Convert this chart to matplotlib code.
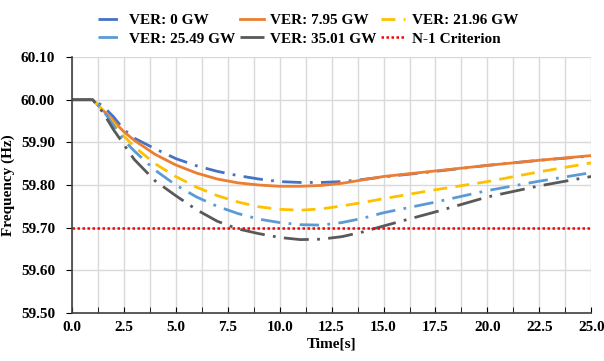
import numpy as np
import matplotlib.pyplot as plt
from matplotlib.ticker import MultipleLocator

# time points [s]
time = [0, 1, 1.5, 2, 2.5, 3, 4, 5, 6, 7, 8, 9, 10, 11, 12, 13, 14, 15, 17.5, 20, 22.5, 25]

# frequency responses (Hz)
ver_0 = [60.0, 60.0, 59.985, 59.96, 59.93, 59.91, 59.885, 59.862, 59.845, 59.832, 59.822,
         59.814, 59.808, 59.806, 59.806, 59.808, 59.813, 59.819, 59.832, 59.846, 59.858, 59.868]
ver_795 = [60.0, 60.0, 59.975, 59.95, 59.925, 59.905, 59.872, 59.847, 59.828, 59.814, 59.805,
           59.8, 59.797, 59.797, 59.799, 59.804, 59.812, 59.82, 59.833, 59.846, 59.858, 59.869]
ver_2196 = [60.0, 60.0, 59.975, 59.945, 59.915, 59.89, 59.85, 59.82, 59.795, 59.775, 59.76,
            59.749, 59.743, 59.741, 59.744, 59.751, 59.759, 59.768, 59.789, 59.808, 59.831, 59.852]
ver_2549 = [60.0, 60.0, 59.975, 59.94, 59.905, 59.88, 59.835, 59.8, 59.772, 59.75, 59.733,
            59.72, 59.712, 59.707, 59.706, 59.712, 59.722, 59.735, 59.76, 59.787, 59.809, 59.829]
ver_3501 = [60.0, 60.0, 59.97, 59.93, 59.895, 59.86, 59.81, 59.775, 59.742, 59.715, 59.697,
            59.686, 59.677, 59.672, 59.673, 59.679, 59.69, 59.704, 59.737, 59.772, 59.798, 59.82]
criterion = 59.70

labels = ['VER: 0 GW', 'VER: 7.95 GW', 'VER: 21.96 GW',
          'VER: 25.49 GW', 'VER: 35.01 GW', 'N-1 Criterion']

plt.rcParams['font.family'] = ['Liberation Serif', 'DejaVu Serif']
plt.rcParams['font.weight'] = 'bold'

fig = plt.figure(figsize=(6.04, 3.61), dpi=100)
ax = fig.add_axes([0.119, 0.133, 0.860, 0.709])

h0, = ax.plot(time, ver_0, color='#4472C4', lw=2, ls=(0, (7, 3, 1, 3)))
h1, = ax.plot(time, ver_795, color='#ED7D31', lw=2, ls='-')
h2, = ax.plot(time, ver_2196, color='#FFC000', lw=2, ls=(0, (5, 3)))
h3, = ax.plot(time, ver_2549, color='#5B9BD5', lw=2, ls=(0, (7, 3, 1, 3)))
h4, = ax.plot(time, ver_3501, color='#595959', lw=2, ls=(0, (9, 3, 1, 3)))
h5 = ax.axhline(criterion, color='#FF0000', lw=1.8, ls=(0, (1, 1)))

ax.set_xlim(0, 25)
ax.set_ylim(59.5, 60.1)
ax.xaxis.set_major_locator(MultipleLocator(2.5))
ax.xaxis.set_minor_locator(MultipleLocator(1.25))
ax.yaxis.set_major_locator(MultipleLocator(0.1))
ax.xaxis.set_major_formatter(plt.FuncFormatter(lambda v, p: f'{v:.1f}'))
ax.yaxis.set_major_formatter(plt.FuncFormatter(lambda v, p: f'{v:.2f}'))
ax.tick_params(axis='x', which='both', direction='in', length=4, labelsize=11, pad=6)
ax.tick_params(axis='y', direction='out', length=4, labelsize=11, pad=8)

ax.grid(True, which='major', axis='y', color='#d9d9d9', lw=1)
ax.grid(True, which='both', axis='x', color='#d9d9d9', lw=1)
ax.set_axisbelow(True)
for s in ['top', 'right']:
    ax.spines[s].set_visible(False)
for s in ['left', 'bottom']:
    ax.spines[s].set_color('#404040')
    ax.spines[s].set_linewidth(1.2)

ax.set_xlabel('Time[s]', fontsize=11, fontweight='bold', labelpad=2)
ax.set_ylabel('Frequency (Hz)', fontsize=11, fontweight='bold', labelpad=4)

handles = [h0, h3, h1, h4, h2, h5]
order = [labels[0], labels[3], labels[1], labels[4], labels[2], labels[5]]
fig.legend(handles, order, ncol=3, loc='upper center', bbox_to_anchor=(0.51, 1.0),
           frameon=False, fontsize=11, handlelength=1.6, columnspacing=0.3,
           handletextpad=0.4, labelspacing=0.3)

fig.savefig('out.png', dpi=100)
